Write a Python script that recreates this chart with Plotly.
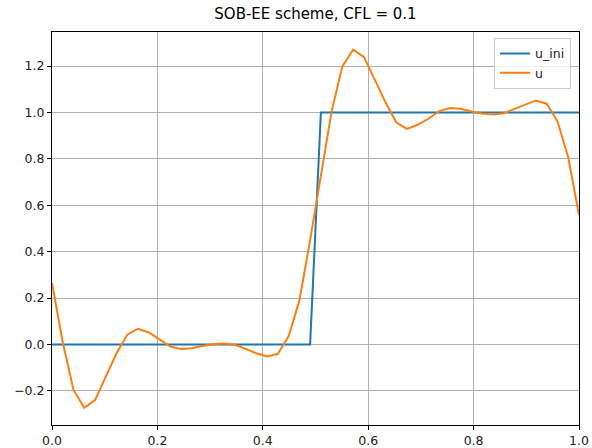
import numpy as np
import plotly.graph_objects as go

# grid of 50 points on [0, 1]
x = np.linspace(0, 1, 50)

# initial step: 0 for x < 0.5, 1 after
u_ini = [0.0] * 25 + [1.0] * 25

# solution after advection
u = [0.265, 0.01, -0.196, -0.273, -0.24, -0.14, -0.038, 0.042, 0.068, 0.052,
     0.02, -0.009, -0.019, -0.016, -0.006, 0.001, 0.004, -0.001, -0.019, -0.038,
     -0.052, -0.04, 0.035, 0.189, 0.45, 0.73, 1.005, 1.199, 1.271, 1.24,
     1.141, 1.045, 0.958, 0.929, 0.947, 0.973, 1.006, 1.019, 1.016, 1.004,
     0.996, 0.991, 0.997, 1.016, 1.035, 1.052, 1.038, 0.962, 0.806, 0.558]

title = "SOB-EE scheme, CFL = 0.1"
xticks = [0, 0.2, 0.4, 0.6, 0.8, 1.0]
yticks = [-0.2, 0, 0.2, 0.4, 0.6, 0.8, 1.0, 1.2]
yticktext = [("\u2212%.1f" % -v) if v < 0 else "%.1f" % v for v in yticks]

fig = go.Figure()
fig.add_trace(go.Scatter(x=x, y=u_ini, name="u_ini", mode="lines",
                         line=dict(color="#1f77b4", width=2)))
fig.add_trace(go.Scatter(x=x, y=u, name="u", mode="lines",
                         line=dict(color="#ff7f0e", width=2)))

axis_style = dict(
    showline=True, mirror=True, linecolor="black", linewidth=1,
    ticks="outside", ticklen=4, tickcolor="black", tickwidth=1,
    showgrid=True, gridcolor="#b0b0b0", gridwidth=1, zeroline=False,
    automargin=False,
    tickfont=dict(family="DejaVu Sans", size=12.5, color="#222"),
)

fig.update_layout(
    width=592, height=448,
    margin=dict(l=52, r=13, t=32, b=23),
    plot_bgcolor="white", paper_bgcolor="white",
    title=dict(text=title, x=0.5, xref="paper", y=1 - 14 / 448, yref="container",
               xanchor="center", yanchor="middle",
               font=dict(family="DejaVu Sans", size=15, color="black")),
    xaxis=dict(range=[0, 1], tickvals=xticks, ticktext=["%.1f" % v for v in xticks],
               **axis_style),
    yaxis=dict(range=[-0.347, 1.347], tickvals=yticks, ticktext=yticktext,
               **axis_style),
    legend=dict(x=0.985, y=0.985, xanchor="right", yanchor="top",
                bgcolor="rgba(255,255,255,0.8)", bordercolor="#cccccc", borderwidth=1,
                font=dict(family="DejaVu Sans", size=12.5, color="#222")),
    showlegend=True,
)

# page body has a default 8px margin; drop it so the figure sits at (0, 0)
fig.write_html("out.html", config={"displayModeBar": False},
               post_script="document.body.style.margin='0';")
